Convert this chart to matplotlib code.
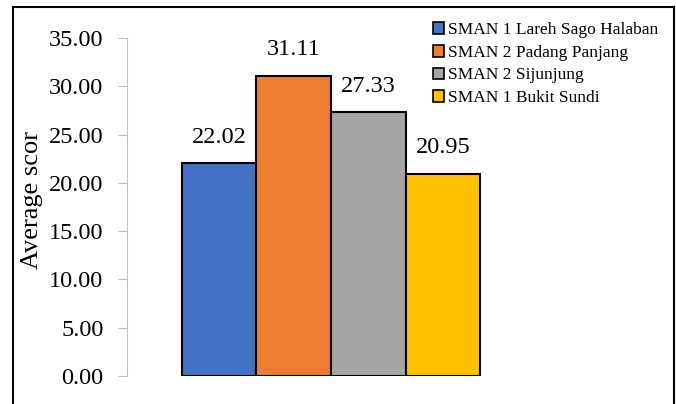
import matplotlib.pyplot as plt
from matplotlib.patches import Patch, Rectangle

schools = ["SMAN 1 Lareh Sago Halaban", "SMAN 2 Padang Panjang",
           "SMAN 2 Sijunjung", "SMAN 1 Bukit Sundi"]
scores = [22.02, 31.11, 27.33, 20.95]
colors = ["#4472C4", "#ED7D31", "#A5A5A5", "#FFC000"]

plt.rcParams['font.family'] = ['Liberation Serif', 'DejaVu Serif']

fig = plt.figure(figsize=(6.76, 4.04), dpi=100)
ax = fig.add_axes([127/676, 28/404, (535-127)/676, 338/404])

xs = list(range(len(scores)))
ax.bar(xs, scores, width=1.0, color=colors, edgecolor="black", linewidth=1.5)
for x, v in zip(xs, scores):
    ax.text(x, v + 1.6, f"{v:.2f}", ha="center", va="bottom", fontsize=17.5)

ax.set_xlim(-1.238, 4.238)
ax.set_ylim(0, 35)
ax.set_yticks(range(0, 36, 5))
ax.set_yticklabels([f"{t:.2f}" for t in range(0, 36, 5)], fontsize=17.5)
ax.set_xticks([])
for s in ["top", "right", "bottom"]:
    ax.spines[s].set_visible(False)
ax.spines["left"].set_color("#BFBFBF")
ax.tick_params(axis="y", length=6.5, color="#BFBFBF", pad=10.5)
ax.set_ylabel("Average scor", fontsize=19, labelpad=2)
ax.yaxis.set_label_coords(-0.205, 0.52)

handles = [Patch(facecolor=c, edgecolor="black", linewidth=1.2) for c in colors]
fig.legend(handles, schools, loc="upper right", bbox_to_anchor=(0.991, 0.975),
           frameon=False, fontsize=12.5, handlelength=0.65, handleheight=0.65,
           handletextpad=0.2, labelspacing=0.38, borderpad=0.2)

# outer chart border
fig.patches.append(Rectangle((13/676, -0.1), (674-13)/676, 1.1 - 7/404,
                             transform=fig.transFigure, fill=False,
                             edgecolor="black", linewidth=1.5))

fig.savefig("out.png", dpi=100)
